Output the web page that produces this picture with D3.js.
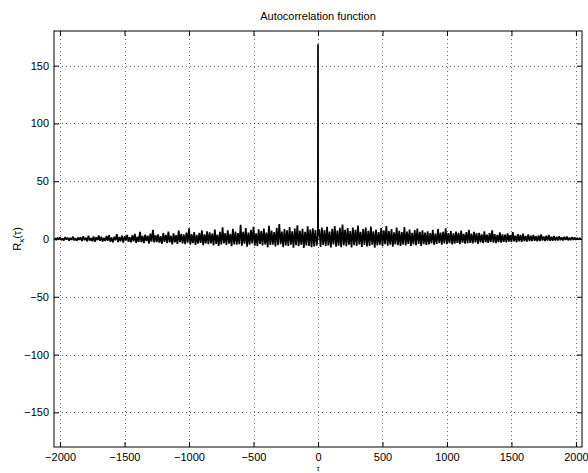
<!DOCTYPE html>
<html>
<head>
<meta charset="utf-8">
<script src="https://cdn.jsdelivr.net/npm/d3@7"></script>
<style>
  body { margin: 0; background: #fff; }
  text { font-family: "Liberation Sans", Arial, sans-serif; }
</style>
</head>
<body>
<div id="chart"></div>
<script>
// lags: -2040 .. 2040 every 10 samples, plus the lags right next to zero
var lagStart = -2040;
var lagStep = 10;

// autocorrelation values
var leftValues = [
  0.8,-0.9,1.2,-0.6,1.5,-1.1,0.4,-1.3,1.7,-0.5,1.1,-1.4,0.9,-0.7,2.0,-1.2,0.6,-1.5,1.3,-0.8,
  1.6,-1.8,2.4,-1.0,1.1,-2.1,2.9,-1.4,0.7,-1.9,2.2,-2.5,1.5,-0.9,3.1,-1.6,1.9,-2.2,1.0,-1.7,
  2.7,-1.5,3.4,-2.3,1.2,-2.8,2.0,-1.1,4.1,-2.6,1.8,-2.0,3.0,-3.1,2.3,-1.4,3.6,-2.4,1.5,-2.9,
  3.2,-2.0,4.4,-3.3,1.9,-2.5,6.1,-2.7,2.6,-3.6,3.8,-1.8,2.9,-3.9,4.6,-2.2,8.0,-3.0,3.4,-2.6,
  4.0,-3.2,2.5,-4.1,5.2,-2.4,3.6,-3.5,6.4,-2.9,2.8,-4.6,4.9,-3.0,3.3,-4.2,7.3,-2.7,4.5,-3.8,
  3.9,-4.4,5.6,-3.1,9.2,-4.8,4.2,-3.6,6.0,-5.1,3.5,-4.0,5.3,-3.3,7.4,-5.4,4.1,-3.9,6.6,-4.5,
  5.8,-3.7,4.6,-5.6,8.1,-4.2,3.9,-6.0,6.3,-4.7,10.1,-3.8,5.0,-5.2,7.6,-4.1,4.4,-6.3,8.8,-4.6,
  6.5,-5.0,5.2,-4.4,12.3,-5.7,6.1,-4.0,9.4,-6.6,5.5,-4.9,7.9,-3.9,10.6,-5.8,4.8,-6.1,8.3,-4.3,
  6.9,-5.5,9.0,-4.6,5.6,-7.2,11.4,-5.1,7.3,-4.8,6.0,-6.4,9.7,-5.3,12.9,-4.5,6.4,-7.0,8.6,-5.6,
  7.5,-5.9,10.3,-4.9,6.7,-7.5,9.1,-5.4,11.8,-6.2,7.0,-5.0,8.9,-7.8,6.2,-5.5,10.9,-6.0,8.1,-7.1,
  9.3,-6.4,7.8,-5.7
];
// lag -1, 0, +1
var peakLags = [-1, 0, 1];
var peakValues = [2.6, 168.5, 3.1];
var rightValues = [
  8.4,-6.9,9.9,-5.2,
  7.7,-6.1,10.5,-5.5,6.5,-7.4,8.8,-4.8,11.1,-6.6,7.2,-5.8,9.6,-7.0,12.4,-5.3,8.0,-6.2,9.4,-5.0,
  6.8,-7.3,10.0,-5.4,7.9,-6.0,11.6,-4.7,6.3,-6.8,8.7,-5.2,9.9,-6.5,7.1,-5.9,10.8,-4.9,6.6,-7.6,
  8.2,-5.6,6.0,-4.9,9.5,-6.3,7.4,-4.4,11.2,-5.8,6.9,-5.0,8.5,-6.6,5.7,-4.6,9.8,-5.3,7.0,-6.0,
  5.9,-4.8,10.4,-5.5,6.4,-4.2,8.1,-6.1,5.3,-4.7,7.8,-5.4,9.0,-4.3,6.1,-5.9,7.5,-4.5,5.6,-5.2,
  6.7,-4.6,5.1,-3.8,7.9,-5.0,4.7,-4.3,8.6,-3.6,5.5,-4.9,6.2,-3.9,9.3,-4.4,5.0,-3.5,6.8,-4.7,
  4.9,-4.1,6.5,-3.4,5.3,-4.5,7.2,-3.1,4.4,-4.0,5.9,-3.7,8.0,-3.3,4.6,-3.9,6.1,-2.9,5.0,-4.2,
  5.4,-3.0,4.1,-3.6,6.6,-2.8,3.8,-3.4,5.1,-2.6,7.4,-3.2,4.3,-3.5,3.6,-2.7,5.8,-3.1,4.0,-2.5,
  3.7,-2.9,4.8,-2.3,3.3,-2.6,5.9,-2.1,2.9,-2.8,4.2,-2.0,3.5,-2.4,4.6,-1.9,2.7,-2.2,3.9,-1.8,
  2.8,-1.9,3.6,-1.5,2.4,-2.0,3.1,-1.7,4.0,-1.4,2.2,-1.8,2.9,-1.3,3.4,-1.6,2.0,-1.5,2.6,-1.2,
  1.9,-1.3,2.3,-1.0,1.5,-1.2,1.8,-0.8,2.1,-1.1,1.2,-0.9,1.6,-0.7,1.3,-0.8,1.0,-0.5,0.7,-0.3
];

var xTicks = [-2000, -1500, -1000, -500, 0, 500, 1000, 1500, 2000];
var yTicks = [-150, -100, -50, 0, 50, 100, 150];

var data = [];
leftValues.forEach(function(v, i) {
  data.push({ lag: lagStart + i * lagStep, r: v });
});
peakLags.forEach(function(l, i) {
  data.push({ lag: l, r: peakValues[i] });
});
rightValues.forEach(function(v, i) {
  data.push({ lag: lagStep * (i + 1), r: v });
});

var svgWidth = 588;
var svgHeight = 473;
var margin = { top: 31, right: 6, bottom: 26, left: 54 };
var width = svgWidth - margin.left - margin.right;
var height = svgHeight - margin.top - margin.bottom;

var svg = d3.select("#chart")
  .append("svg")
  .attr("width", svgWidth)
  .attr("height", svgHeight);

var g = svg.append("g")
  .attr("transform", `translate(${margin.left}, ${margin.top})`);

var x = d3.scaleLinear().domain([-2047, 2047]).range([0, width]);
var y = d3.scaleLinear().domain([-180, 180]).range([height, 0]);

// dotted grid
g.selectAll(".xgrid")
  .data(xTicks)
  .enter().append("line")
  .attr("x1", d => Math.round(x(d)) + 0.5)
  .attr("x2", d => Math.round(x(d)) + 0.5)
  .attr("y1", 0)
  .attr("y2", height)
  .attr("stroke", "#000")
  .attr("stroke-opacity", 0.6)
  .attr("stroke-dasharray", "1,3");

g.selectAll(".ygrid")
  .data(yTicks)
  .enter().append("line")
  .attr("y1", d => Math.round(y(d)) + 0.5)
  .attr("y2", d => Math.round(y(d)) + 0.5)
  .attr("x1", 0)
  .attr("x2", width)
  .attr("stroke", "#000")
  .attr("stroke-opacity", 0.6)
  .attr("stroke-dasharray", "1,3");

// the series
var line = d3.line()
  .x(d => x(d.lag))
  .y(d => y(d.r));

g.append("path")
  .datum(data)
  .attr("fill", "none")
  .attr("stroke", "#000")
  .attr("stroke-width", 1.7)
  .attr("stroke-linejoin", "bevel")
  .attr("d", line);

// axes with inward ticks on all four sides
var tickLen = 5;
var fmt = d3.format("");

var bottomAxis = d3.axisBottom(x).tickValues(xTicks).tickSize(-tickLen).tickPadding(6).tickFormat(fmt);
var topAxis = d3.axisTop(x).tickValues(xTicks).tickSize(-tickLen).tickFormat("");
var leftAxis = d3.axisLeft(y).tickValues(yTicks).tickSize(-tickLen).tickPadding(5).tickFormat(fmt);
var rightAxis = d3.axisRight(y).tickValues(yTicks).tickSize(-tickLen).tickFormat("");

[
  g.append("g").attr("transform", `translate(0, ${height})`).call(bottomAxis),
  g.append("g").call(topAxis),
  g.append("g").call(leftAxis),
  g.append("g").attr("transform", `translate(${width}, 0)`).call(rightAxis)
].forEach(function(ax) {
  ax.select(".domain").remove();
  ax.selectAll("line").attr("stroke", "#000");
  ax.selectAll("text")
    .attr("font-size", 11)
    .attr("fill", "#000")
    .style("font-family", "'Liberation Sans', Arial, sans-serif");
});

// box
g.append("rect")
  .attr("x", 0)
  .attr("y", 0)
  .attr("width", width)
  .attr("height", height)
  .attr("fill", "none")
  .attr("stroke", "#000")
  .attr("stroke-width", 1);

// labels
svg.append("text")
  .attr("x", margin.left + width / 2)
  .attr("y", 20)
  .attr("text-anchor", "middle")
  .attr("font-size", 11)
  .text("Autocorrelation function");

svg.append("text")
  .attr("x", margin.left + x(0))
  .attr("y", 471)
  .attr("text-anchor", "middle")
  .attr("font-size", 8)
  .text("τ");

var ylab = svg.append("text")
  .attr("transform", "translate(21, 239) rotate(-90)")
  .attr("text-anchor", "middle")
  .attr("font-size", 11);
ylab.append("tspan").text("R");
ylab.append("tspan").attr("font-size", 8).attr("dy", 3).text("x");
ylab.append("tspan").attr("dy", -3).text("(τ)");
</script>
</body>
</html>
